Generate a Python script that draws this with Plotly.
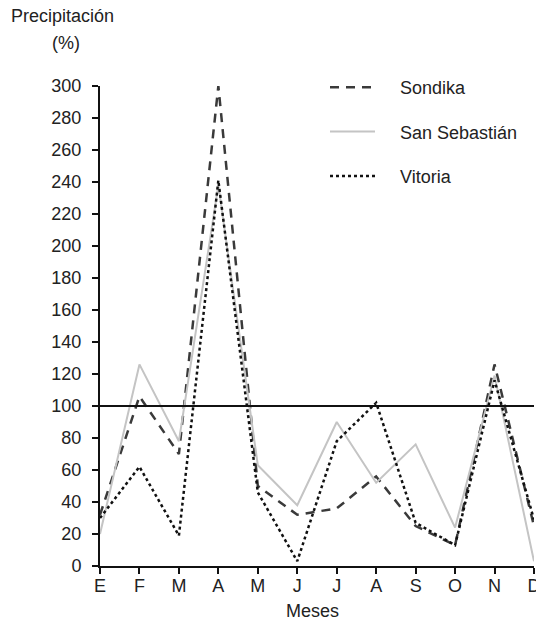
import plotly.graph_objects as go

months = ["E", "F", "M", "A", "M", "J", "J", "A", "S", "O", "N", "D"]
sondika = [32, 106, 70, 300, 50, 32, 36, 56, 25, 13, 126, 25]
san_sebastian = [20, 126, 78, 238, 63, 38, 90, 52, 76, 24, 119, 3]
vitoria = [30, 62, 19, 241, 46, 3, 78, 102, 27, 13, 116, 29]
y_ticks = list(range(0, 301, 20))
x_pos = list(range(len(months)))

FONT = "Liberation Sans, Arial, Helvetica, sans-serif"
PW, PH = 434, 480
NB = "\u00a0" * 4

fig = go.Figure()
fig.add_trace(go.Scatter(x=x_pos, y=sondika, mode="lines", name=NB + "Sondika",
                         legendgroup="a",
                         line=dict(color="#3a3a3a", width=2.5, dash="9px,7px")))
fig.add_trace(go.Scatter(x=x_pos, y=san_sebastian, mode="lines", name=NB + "San Sebastián",
                         legendgroup="b",
                         line=dict(color="#c4c4c4", width=2)))
fig.add_trace(go.Scatter(x=x_pos, y=vitoria, mode="lines", name=NB + "Vitoria",
                         legendgroup="c",
                         line=dict(color="#111111", width=2.5, dash="dot")))

fig.add_hline(y=100, line=dict(color="#111111", width=1.8))

fig.update_layout(
    width=536, height=623,
    margin=dict(l=100, r=2, t=86, b=57, autoexpand=False),
    paper_bgcolor="white", plot_bgcolor="white",
    font=dict(family=FONT, size=18, color="#222222"),
    showlegend=True,
    legend=dict(x=(325 - 100) / PW, y=1 + 17 / PH, xanchor="left", yanchor="top",
                tracegroupgap=18, itemwidth=45, font=dict(size=18, color="#222222"),
                bgcolor="rgba(0,0,0,0)"),
    xaxis=dict(range=[0, 11], tickmode="array", tickvals=x_pos, ticktext=months,
               showline=True, linecolor="#111111", linewidth=2,
               ticks="outside", ticklen=6, tickwidth=2, tickcolor="#111111",
               showgrid=False, zeroline=False, automargin=False,
               ticklabelstandoff=-4, ticklabeloverflow="allow"),
    yaxis=dict(range=[0, 300], tickmode="array", tickvals=y_ticks,
               showline=True, linecolor="#111111", linewidth=2,
               ticks="outside", ticklen=6, tickwidth=2, tickcolor="#111111",
               showgrid=False, zeroline=False, automargin=False,
               ticklabelstandoff=7),
    annotations=[
        dict(text="Precipitación", xref="paper", yref="paper", x=-91 / PW, y=1 + 70 / PH,
             xanchor="left", yanchor="middle", showarrow=False, font=dict(size=18)),
        dict(text="(%)", xref="paper", yref="paper", x=-34 / PW, y=1 + 43 / PH,
             xanchor="center", yanchor="middle", showarrow=False, font=dict(size=18)),
        dict(text="Meses", xref="paper", yref="paper", x=(312 - 100) / PW, y=-45 / PH,
             xanchor="center", yanchor="middle", showarrow=False, font=dict(size=18)),
    ],
)

fig.write_html(
    "out.html",
    config={"displayModeBar": False},
    post_script="document.body.style.margin='0';document.body.style.overflow='hidden';",
)
